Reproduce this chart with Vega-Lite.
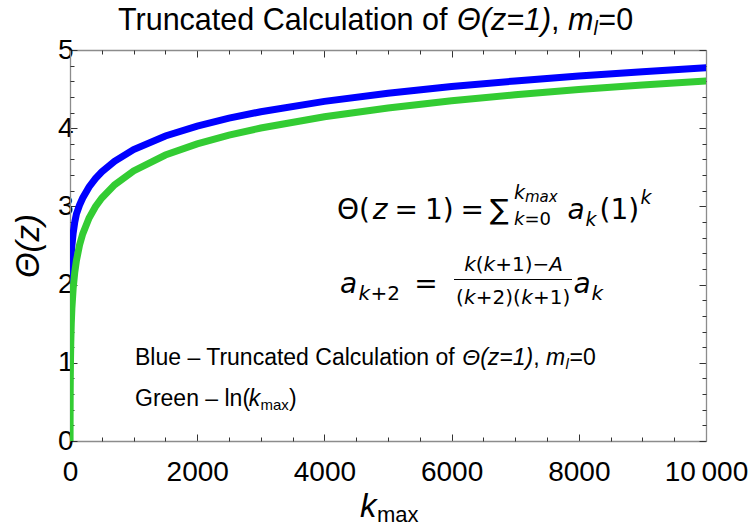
{
  "$schema": "https://vega.github.io/schema/vega-lite/v6.json",
  "width": 636,
  "height": 391,
  "autosize": {"type": "none"},
  "padding": {"left": 70, "top": 50, "right": 45, "bottom": 87},
  "background": "white",
  "config": {"view": {"stroke": null}},
  "datasets": {
    "curves": [
      {"k": 1, "theta": 1.0, "series": "Blue"},
      {"k": 2, "theta": 1.55, "series": "Blue"},
      {"k": 5, "theta": 1.95, "series": "Blue"},
      {"k": 10, "theta": 2.2, "series": "Blue"},
      {"k": 20, "theta": 2.4, "series": "Blue"},
      {"k": 30, "theta": 2.5, "series": "Blue"},
      {"k": 50, "theta": 2.66, "series": "Blue"},
      {"k": 75, "theta": 2.8, "series": "Blue"},
      {"k": 100, "theta": 2.9, "series": "Blue"},
      {"k": 150, "theta": 3.017, "series": "Blue"},
      {"k": 200, "theta": 3.108, "series": "Blue"},
      {"k": 300, "theta": 3.249, "series": "Blue"},
      {"k": 400, "theta": 3.356, "series": "Blue"},
      {"k": 500, "theta": 3.442, "series": "Blue"},
      {"k": 700, "theta": 3.577, "series": "Blue"},
      {"k": 1000, "theta": 3.726, "series": "Blue"},
      {"k": 1500, "theta": 3.901, "series": "Blue"},
      {"k": 2000, "theta": 4.027, "series": "Blue"},
      {"k": 2500, "theta": 4.128, "series": "Blue"},
      {"k": 3000, "theta": 4.211, "series": "Blue"},
      {"k": 4000, "theta": 4.343, "series": "Blue"},
      {"k": 5000, "theta": 4.447, "series": "Blue"},
      {"k": 6000, "theta": 4.532, "series": "Blue"},
      {"k": 7000, "theta": 4.604, "series": "Blue"},
      {"k": 8000, "theta": 4.668, "series": "Blue"},
      {"k": 9000, "theta": 4.723, "series": "Blue"},
      {"k": 10000, "theta": 4.773, "series": "Blue"},
      {"k": 1, "theta": 0.0, "series": "Green"},
      {"k": 2, "theta": 0.347, "series": "Green"},
      {"k": 3, "theta": 0.549, "series": "Green"},
      {"k": 5, "theta": 0.805, "series": "Green"},
      {"k": 8, "theta": 1.04, "series": "Green"},
      {"k": 12, "theta": 1.242, "series": "Green"},
      {"k": 20, "theta": 1.498, "series": "Green"},
      {"k": 30, "theta": 1.701, "series": "Green"},
      {"k": 50, "theta": 1.956, "series": "Green"},
      {"k": 75, "theta": 2.159, "series": "Green"},
      {"k": 100, "theta": 2.303, "series": "Green"},
      {"k": 150, "theta": 2.505, "series": "Green"},
      {"k": 200, "theta": 2.649, "series": "Green"},
      {"k": 300, "theta": 2.852, "series": "Green"},
      {"k": 400, "theta": 2.996, "series": "Green"},
      {"k": 500, "theta": 3.107, "series": "Green"},
      {"k": 700, "theta": 3.276, "series": "Green"},
      {"k": 1000, "theta": 3.454, "series": "Green"},
      {"k": 1500, "theta": 3.657, "series": "Green"},
      {"k": 2000, "theta": 3.8, "series": "Green"},
      {"k": 2500, "theta": 3.912, "series": "Green"},
      {"k": 3000, "theta": 4.003, "series": "Green"},
      {"k": 4000, "theta": 4.147, "series": "Green"},
      {"k": 5000, "theta": 4.259, "series": "Green"},
      {"k": 6000, "theta": 4.35, "series": "Green"},
      {"k": 7000, "theta": 4.427, "series": "Green"},
      {"k": 8000, "theta": 4.494, "series": "Green"},
      {"k": 9000, "theta": 4.552, "series": "Green"},
      {"k": 10000, "theta": 4.605, "series": "Green"}
    ]
  },
  "resolve": {"axis": {"x": "independent", "y": "independent"}},
  "layer": [
    {
      "data": {"name": "curves"},
      "transform": [{"filter": "datum.series === 'Blue'"}],
      "mark": {"type": "line", "color": "#0000ff", "strokeWidth": 7, "strokeCap": "round", "clip": true},
      "encoding": {
        "x": {"field": "k", "type": "quantitative",
          "scale": {"domain": [0, 10000], "nice": false, "zero": false},
          "axis": {"orient": "bottom", "title": null, "grid": false,
            "values": [0, 2000, 4000, 6000, 8000, 10000],
            "tickSize": -7,
            "labelExpr": "datum.value === 10000 ? '10\u2009000' : toString(datum.value)",
            "labelFont": "Liberation Sans", "labelFontSize": 28, "labelColor": "#000", "labelPadding": 24,
            "labelFlush": false, "labelOverlap": false, "domainColor": "#8c8c8c", "domainWidth": 1.3, "tickColor": "#333", "tickWidth": 1}},
        "y": {"field": "theta", "type": "quantitative",
          "scale": {"domain": [0, 5], "nice": false, "zero": false},
          "axis": {"orient": "left", "grid": false,
            "values": [0, 1, 2, 3, 4, 5],
            "tickSize": -7,
            "labelFont": "Liberation Sans", "labelFontSize": 28, "labelColor": "#000", "labelPadding": 4,
            "labelFlush": false, "labelOverlap": false, "domainColor": "#8c8c8c", "domainWidth": 1.3, "tickColor": "#333", "tickWidth": 1,
            "title": "Θ(z)", "titleFont": "Liberation Sans", "titleFontSize": 33, "titleFontStyle": "italic", "titleFontWeight": "normal", "titleColor": "#000", "titlePadding": 12}}
      }
    },
    {
      "data": {"name": "curves"},
      "transform": [{"filter": "datum.series === 'Green'"}],
      "mark": {"type": "line", "color": "#33cc33", "strokeWidth": 7, "strokeCap": "round", "clip": true},
      "encoding": {
        "x": {"field": "k", "type": "quantitative",
          "axis": {"orient": "top", "title": null, "grid": false, "labels": false,
            "values": [0, 2000, 4000, 6000, 8000, 10000],
            "tickSize": -7, "domainColor": "#8c8c8c", "domainWidth": 1.3, "tickColor": "#333", "tickWidth": 1}},
        "y": {"field": "theta", "type": "quantitative",
          "axis": {"orient": "right", "title": null, "grid": false, "labels": false,
            "values": [0, 1, 2, 3, 4, 5],
            "tickSize": -7, "domainColor": "#8c8c8c", "domainWidth": 1.3, "tickColor": "#333", "tickWidth": 1}}
      }
    },
    {
      "data": {"values": [{}]},
      "mark": {"type": "point", "opacity": 0},
      "encoding": {
        "x": {"datum": 0, "type": "quantitative",
          "axis": {"orient": "bottom", "title": null, "grid": false, "labels": false, "domain": false,
            "values": [500, 1000, 1500, 2500, 3000, 3500, 4500, 5000, 5500, 6500, 7000, 7500, 8500, 9000, 9500],
            "tickSize": -4, "tickColor": "#333", "tickWidth": 1}},
        "y": {"datum": 0, "type": "quantitative",
          "axis": {"orient": "left", "title": null, "grid": false, "labels": false, "domain": false,
            "values": [0.2, 0.4, 0.6, 0.8, 1.2, 1.4, 1.6, 1.8, 2.2, 2.4, 2.6, 2.8, 3.2, 3.4, 3.6, 3.8, 4.2, 4.4, 4.6, 4.8],
            "tickSize": -4, "tickColor": "#333", "tickWidth": 1}}
      }
    },
    {
      "data": {"values": [{}]},
      "mark": {"type": "point", "opacity": 0},
      "encoding": {
        "x": {"datum": 0, "type": "quantitative",
          "axis": {"orient": "top", "title": null, "grid": false, "labels": false, "domain": false,
            "values": [500, 1000, 1500, 2500, 3000, 3500, 4500, 5000, 5500, 6500, 7000, 7500, 8500, 9000, 9500],
            "tickSize": -4, "tickColor": "#333", "tickWidth": 1}},
        "y": {"datum": 0, "type": "quantitative",
          "axis": {"orient": "right", "title": null, "grid": false, "labels": false, "domain": false,
            "values": [0.2, 0.4, 0.6, 0.8, 1.2, 1.4, 1.6, 1.8, 2.2, 2.4, 2.6, 2.8, 3.2, 3.4, 3.6, 3.8, 4.2, 4.4, 4.6, 4.8],
            "tickSize": -4, "tickColor": "#333", "tickWidth": 1}}
      }
    },

    {"data": {"values": [{}]}, "mark": {"type": "text", "text": "Truncated Calculation of", "font": "Liberation Sans", "fontSize": 30.5, "align": "left", "baseline": "alphabetic", "dx": 0},
      "encoding": {"x": {"datum": 755, "type": "quantitative", "axis": null}, "y": {"datum": 5.256, "type": "quantitative", "axis": null}}},
    {"data": {"values": [{}]}, "mark": {"type": "text", "text": "Θ(z=1)", "font": "Liberation Sans", "fontSize": 30.5, "fontStyle": "italic", "align": "left", "baseline": "alphabetic", "dx": 339},
      "encoding": {"x": {"datum": 755, "type": "quantitative", "axis": null}, "y": {"datum": 5.256, "type": "quantitative", "axis": null}}},
    {"data": {"values": [{}]}, "mark": {"type": "text", "text": ",", "font": "Liberation Sans", "fontSize": 30.5, "align": "left", "baseline": "alphabetic", "dx": 433.1},
      "encoding": {"x": {"datum": 755, "type": "quantitative", "axis": null}, "y": {"datum": 5.256, "type": "quantitative", "axis": null}}},
    {"data": {"values": [{}]}, "mark": {"type": "text", "text": "m", "font": "Liberation Sans", "fontSize": 30.5, "fontStyle": "italic", "align": "left", "baseline": "alphabetic", "dx": 450.1},
      "encoding": {"x": {"datum": 755, "type": "quantitative", "axis": null}, "y": {"datum": 5.256, "type": "quantitative", "axis": null}}},
    {"data": {"values": [{}]}, "mark": {"type": "text", "text": "l", "font": "Liberation Sans", "fontSize": 19.5, "fontStyle": "italic", "align": "left", "baseline": "alphabetic", "dx": 475.6, "dy": 5},
      "encoding": {"x": {"datum": 755, "type": "quantitative", "axis": null}, "y": {"datum": 5.256, "type": "quantitative", "axis": null}}},
    {"data": {"values": [{}]}, "mark": {"type": "text", "text": "=0", "font": "Liberation Sans", "fontSize": 30.5, "align": "left", "baseline": "alphabetic", "dx": 480.3},
      "encoding": {"x": {"datum": 755, "type": "quantitative", "axis": null}, "y": {"datum": 5.256, "type": "quantitative", "axis": null}}},

    {"data": {"values": [{}]}, "mark": {"type": "text", "text": "Blue – Truncated Calculation of", "font": "Liberation Sans", "fontSize": 23, "align": "left", "baseline": "alphabetic", "dx": 0},
      "encoding": {"x": {"datum": 1022, "type": "quantitative", "axis": null}, "y": {"datum": 0.972, "type": "quantitative", "axis": null}}},
    {"data": {"values": [{}]}, "mark": {"type": "text", "text": "Θ(z=1)", "font": "Liberation Sans", "fontSize": 23, "fontStyle": "italic", "align": "left", "baseline": "alphabetic", "dx": 327.3},
      "encoding": {"x": {"datum": 1022, "type": "quantitative", "axis": null}, "y": {"datum": 0.972, "type": "quantitative", "axis": null}}},
    {"data": {"values": [{}]}, "mark": {"type": "text", "text": ",", "font": "Liberation Sans", "fontSize": 23, "align": "left", "baseline": "alphabetic", "dx": 398.2},
      "encoding": {"x": {"datum": 1022, "type": "quantitative", "axis": null}, "y": {"datum": 0.972, "type": "quantitative", "axis": null}}},
    {"data": {"values": [{}]}, "mark": {"type": "text", "text": "m", "font": "Liberation Sans", "fontSize": 23, "fontStyle": "italic", "align": "left", "baseline": "alphabetic", "dx": 411},
      "encoding": {"x": {"datum": 1022, "type": "quantitative", "axis": null}, "y": {"datum": 0.972, "type": "quantitative", "axis": null}}},
    {"data": {"values": [{}]}, "mark": {"type": "text", "text": "l", "font": "Liberation Sans", "fontSize": 15, "fontStyle": "italic", "align": "left", "baseline": "alphabetic", "dx": 430.5, "dy": 4},
      "encoding": {"x": {"datum": 1022, "type": "quantitative", "axis": null}, "y": {"datum": 0.972, "type": "quantitative", "axis": null}}},
    {"data": {"values": [{}]}, "mark": {"type": "text", "text": "=0", "font": "Liberation Sans", "fontSize": 23, "align": "left", "baseline": "alphabetic", "dx": 434.5},
      "encoding": {"x": {"datum": 1022, "type": "quantitative", "axis": null}, "y": {"datum": 0.972, "type": "quantitative", "axis": null}}},

    {"data": {"values": [{}]}, "mark": {"type": "text", "text": "Green – ln(", "font": "Liberation Sans", "fontSize": 23, "align": "left", "baseline": "alphabetic", "dx": 0},
      "encoding": {"x": {"datum": 1022, "type": "quantitative", "axis": null}, "y": {"datum": 0.448, "type": "quantitative", "axis": null}}},
    {"data": {"values": [{}]}, "mark": {"type": "text", "text": "k", "font": "Liberation Sans", "fontSize": 23, "fontStyle": "italic", "align": "left", "baseline": "alphabetic", "dx": 113.8},
      "encoding": {"x": {"datum": 1022, "type": "quantitative", "axis": null}, "y": {"datum": 0.448, "type": "quantitative", "axis": null}}},
    {"data": {"values": [{}]}, "mark": {"type": "text", "text": "max", "font": "Liberation Sans", "fontSize": 15, "align": "left", "baseline": "alphabetic", "dx": 125.5, "dy": 4},
      "encoding": {"x": {"datum": 1022, "type": "quantitative", "axis": null}, "y": {"datum": 0.448, "type": "quantitative", "axis": null}}},
    {"data": {"values": [{}]}, "mark": {"type": "text", "text": ")", "font": "Liberation Sans", "fontSize": 23, "align": "left", "baseline": "alphabetic", "dx": 154},
      "encoding": {"x": {"datum": 1022, "type": "quantitative", "axis": null}, "y": {"datum": 0.448, "type": "quantitative", "axis": null}}},

    {"data": {"values": [{}]}, "mark": {"type": "text", "text": "k", "font": "Liberation Sans", "fontSize": 33, "fontStyle": "italic", "align": "left", "baseline": "alphabetic", "dx": 0},
      "encoding": {"x": {"datum": 4560, "type": "quantitative", "axis": null}, "y": {"datum": -0.972, "type": "quantitative", "axis": null}}},
    {"data": {"values": [{}]}, "mark": {"type": "text", "text": "max", "font": "Liberation Sans", "fontSize": 22, "align": "left", "baseline": "alphabetic", "dx": 17, "dy": 5},
      "encoding": {"x": {"datum": 4560, "type": "quantitative", "axis": null}, "y": {"datum": -0.972, "type": "quantitative", "axis": null}}},

    {"data": {"values": [{}]}, "mark": {"type": "text", "text": "Θ(", "font": "DejaVu Sans", "fontSize": 28, "align": "left", "baseline": "alphabetic", "dx": 0},
      "encoding": {"x": {"datum": 4198, "type": "quantitative", "axis": null}, "y": {"datum": 2.839, "type": "quantitative", "axis": null}}},
    {"data": {"values": [{}]}, "mark": {"type": "text", "text": "z", "font": "DejaVu Sans", "fontSize": 28, "fontStyle": "italic", "align": "left", "baseline": "alphabetic", "dx": 35.8},
      "encoding": {"x": {"datum": 4198, "type": "quantitative", "axis": null}, "y": {"datum": 2.839, "type": "quantitative", "axis": null}}},
    {"data": {"values": [{}]}, "mark": {"type": "text", "text": "=", "font": "DejaVu Sans", "fontSize": 28, "align": "left", "baseline": "alphabetic", "dx": 57.5},
      "encoding": {"x": {"datum": 4198, "type": "quantitative", "axis": null}, "y": {"datum": 2.839, "type": "quantitative", "axis": null}}},
    {"data": {"values": [{}]}, "mark": {"type": "text", "text": "1)", "font": "DejaVu Sans", "fontSize": 28, "align": "left", "baseline": "alphabetic", "dx": 88},
      "encoding": {"x": {"datum": 4198, "type": "quantitative", "axis": null}, "y": {"datum": 2.839, "type": "quantitative", "axis": null}}},
    {"data": {"values": [{}]}, "mark": {"type": "text", "text": "=", "font": "DejaVu Sans", "fontSize": 28, "align": "left", "baseline": "alphabetic", "dx": 123.5},
      "encoding": {"x": {"datum": 4198, "type": "quantitative", "axis": null}, "y": {"datum": 2.839, "type": "quantitative", "axis": null}}},
    {"data": {"values": [{}]}, "mark": {"type": "text", "text": "∑", "font": "DejaVu Sans", "fontSize": 28, "align": "left", "baseline": "alphabetic", "dx": 153},
      "encoding": {"x": {"datum": 4198, "type": "quantitative", "axis": null}, "y": {"datum": 2.839, "type": "quantitative", "axis": null}}},
    {"data": {"values": [{}]}, "mark": {"type": "text", "text": "k", "font": "DejaVu Sans", "fontSize": 19, "fontStyle": "italic", "align": "left", "baseline": "alphabetic", "dx": 176.9, "dy": -20},
      "encoding": {"x": {"datum": 4198, "type": "quantitative", "axis": null}, "y": {"datum": 2.839, "type": "quantitative", "axis": null}}},
    {"data": {"values": [{}]}, "mark": {"type": "text", "text": "max", "font": "DejaVu Sans", "fontSize": 15, "fontStyle": "italic", "align": "left", "baseline": "alphabetic", "dx": 188, "dy": -17},
      "encoding": {"x": {"datum": 4198, "type": "quantitative", "axis": null}, "y": {"datum": 2.839, "type": "quantitative", "axis": null}}},
    {"data": {"values": [{}]}, "mark": {"type": "text", "text": "k", "font": "DejaVu Sans", "fontSize": 18, "fontStyle": "italic", "align": "left", "baseline": "alphabetic", "dx": 176.9, "dy": 6},
      "encoding": {"x": {"datum": 4198, "type": "quantitative", "axis": null}, "y": {"datum": 2.839, "type": "quantitative", "axis": null}}},
    {"data": {"values": [{}]}, "mark": {"type": "text", "text": "=0", "font": "DejaVu Sans", "fontSize": 18, "align": "left", "baseline": "alphabetic", "dx": 187.5, "dy": 6},
      "encoding": {"x": {"datum": 4198, "type": "quantitative", "axis": null}, "y": {"datum": 2.839, "type": "quantitative", "axis": null}}},
    {"data": {"values": [{}]}, "mark": {"type": "text", "text": "a", "font": "DejaVu Sans", "fontSize": 28, "fontStyle": "italic", "align": "left", "baseline": "alphabetic", "dx": 230.5},
      "encoding": {"x": {"datum": 4198, "type": "quantitative", "axis": null}, "y": {"datum": 2.839, "type": "quantitative", "axis": null}}},
    {"data": {"values": [{}]}, "mark": {"type": "text", "text": "k", "font": "DejaVu Sans", "fontSize": 19, "fontStyle": "italic", "align": "left", "baseline": "alphabetic", "dx": 248.5, "dy": 7},
      "encoding": {"x": {"datum": 4198, "type": "quantitative", "axis": null}, "y": {"datum": 2.839, "type": "quantitative", "axis": null}}},
    {"data": {"values": [{}]}, "mark": {"type": "text", "text": "(1)", "font": "DejaVu Sans", "fontSize": 28, "align": "left", "baseline": "alphabetic", "dx": 262.5},
      "encoding": {"x": {"datum": 4198, "type": "quantitative", "axis": null}, "y": {"datum": 2.839, "type": "quantitative", "axis": null}}},
    {"data": {"values": [{}]}, "mark": {"type": "text", "text": "k", "font": "DejaVu Sans", "fontSize": 19, "fontStyle": "italic", "align": "left", "baseline": "alphabetic", "dx": 303.5, "dy": -15},
      "encoding": {"x": {"datum": 4198, "type": "quantitative", "axis": null}, "y": {"datum": 2.839, "type": "quantitative", "axis": null}}},

    {"data": {"values": [{}]}, "mark": {"type": "text", "text": "a", "font": "DejaVu Sans", "fontSize": 28, "fontStyle": "italic", "align": "left", "baseline": "alphabetic", "dx": 0},
      "encoding": {"x": {"datum": 4245, "type": "quantitative", "axis": null}, "y": {"datum": 1.893, "type": "quantitative", "axis": null}}},
    {"data": {"values": [{}]}, "mark": {"type": "text", "text": "k", "font": "DejaVu Sans", "fontSize": 20, "fontStyle": "italic", "align": "left", "baseline": "alphabetic", "dx": 18.5, "dy": 7},
      "encoding": {"x": {"datum": 4245, "type": "quantitative", "axis": null}, "y": {"datum": 1.893, "type": "quantitative", "axis": null}}},
    {"data": {"values": [{}]}, "mark": {"type": "text", "text": "+2", "font": "DejaVu Sans", "fontSize": 20, "align": "left", "baseline": "alphabetic", "dx": 30.5, "dy": 7},
      "encoding": {"x": {"datum": 4245, "type": "quantitative", "axis": null}, "y": {"datum": 1.893, "type": "quantitative", "axis": null}}},
    {"data": {"values": [{}]}, "mark": {"type": "text", "text": "=", "font": "DejaVu Sans", "fontSize": 28, "align": "left", "baseline": "alphabetic", "dx": 74.3},
      "encoding": {"x": {"datum": 4245, "type": "quantitative", "axis": null}, "y": {"datum": 1.893, "type": "quantitative", "axis": null}}},
    {"data": {"values": [{}]}, "mark": {"type": "text", "text": "k", "font": "DejaVu Sans", "fontSize": 20, "fontStyle": "italic", "align": "left", "baseline": "alphabetic", "dx": 124.2, "dy": -21.6},
      "encoding": {"x": {"datum": 4245, "type": "quantitative", "axis": null}, "y": {"datum": 1.893, "type": "quantitative", "axis": null}}},
    {"data": {"values": [{}]}, "mark": {"type": "text", "text": "(", "font": "DejaVu Sans", "fontSize": 20, "align": "left", "baseline": "alphabetic", "dx": 135.8, "dy": -21.6},
      "encoding": {"x": {"datum": 4245, "type": "quantitative", "axis": null}, "y": {"datum": 1.893, "type": "quantitative", "axis": null}}},
    {"data": {"values": [{}]}, "mark": {"type": "text", "text": "k", "font": "DejaVu Sans", "fontSize": 20, "fontStyle": "italic", "align": "left", "baseline": "alphabetic", "dx": 143.6, "dy": -21.6},
      "encoding": {"x": {"datum": 4245, "type": "quantitative", "axis": null}, "y": {"datum": 1.893, "type": "quantitative", "axis": null}}},
    {"data": {"values": [{}]}, "mark": {"type": "text", "text": "+1)−", "font": "DejaVu Sans", "fontSize": 20, "align": "left", "baseline": "alphabetic", "dx": 155.2, "dy": -21.6},
      "encoding": {"x": {"datum": 4245, "type": "quantitative", "axis": null}, "y": {"datum": 1.893, "type": "quantitative", "axis": null}}},
    {"data": {"values": [{}]}, "mark": {"type": "text", "text": "A", "font": "DejaVu Sans", "fontSize": 20, "fontStyle": "italic", "align": "left", "baseline": "alphabetic", "dx": 209.2, "dy": -21.6},
      "encoding": {"x": {"datum": 4245, "type": "quantitative", "axis": null}, "y": {"datum": 1.893, "type": "quantitative", "axis": null}}},
    {"data": {"values": [{}]}, "mark": {"type": "rule", "color": "#000", "strokeWidth": 1.2},
      "encoding": {"x": {"datum": 6038, "type": "quantitative", "axis": null}, "x2": {"datum": 7893}, "y": {"datum": 2.065, "type": "quantitative", "axis": null}}},
    {"data": {"values": [{}]}, "mark": {"type": "text", "text": "(", "font": "DejaVu Sans", "fontSize": 20, "align": "left", "baseline": "alphabetic", "dx": 116.1, "dy": 10.8},
      "encoding": {"x": {"datum": 4245, "type": "quantitative", "axis": null}, "y": {"datum": 1.893, "type": "quantitative", "axis": null}}},
    {"data": {"values": [{}]}, "mark": {"type": "text", "text": "k", "font": "DejaVu Sans", "fontSize": 20, "fontStyle": "italic", "align": "left", "baseline": "alphabetic", "dx": 124, "dy": 10.8},
      "encoding": {"x": {"datum": 4245, "type": "quantitative", "axis": null}, "y": {"datum": 1.893, "type": "quantitative", "axis": null}}},
    {"data": {"values": [{}]}, "mark": {"type": "text", "text": "+2)(", "font": "DejaVu Sans", "fontSize": 20, "align": "left", "baseline": "alphabetic", "dx": 135.7, "dy": 10.8},
      "encoding": {"x": {"datum": 4245, "type": "quantitative", "axis": null}, "y": {"datum": 1.893, "type": "quantitative", "axis": null}}},
    {"data": {"values": [{}]}, "mark": {"type": "text", "text": "k", "font": "DejaVu Sans", "fontSize": 20, "fontStyle": "italic", "align": "left", "baseline": "alphabetic", "dx": 181.3, "dy": 10.8},
      "encoding": {"x": {"datum": 4245, "type": "quantitative", "axis": null}, "y": {"datum": 1.893, "type": "quantitative", "axis": null}}},
    {"data": {"values": [{}]}, "mark": {"type": "text", "text": "+1)", "font": "DejaVu Sans", "fontSize": 20, "align": "left", "baseline": "alphabetic", "dx": 193, "dy": 10.8},
      "encoding": {"x": {"datum": 4245, "type": "quantitative", "axis": null}, "y": {"datum": 1.893, "type": "quantitative", "axis": null}}},
    {"data": {"values": [{}]}, "mark": {"type": "text", "text": "a", "font": "DejaVu Sans", "fontSize": 28, "fontStyle": "italic", "align": "left", "baseline": "alphabetic", "dx": 233.6},
      "encoding": {"x": {"datum": 4245, "type": "quantitative", "axis": null}, "y": {"datum": 1.893, "type": "quantitative", "axis": null}}},
    {"data": {"values": [{}]}, "mark": {"type": "text", "text": "k", "font": "DejaVu Sans", "fontSize": 20, "fontStyle": "italic", "align": "left", "baseline": "alphabetic", "dx": 251.5, "dy": 7},
      "encoding": {"x": {"datum": 4245, "type": "quantitative", "axis": null}, "y": {"datum": 1.893, "type": "quantitative", "axis": null}}}
  ]
}
